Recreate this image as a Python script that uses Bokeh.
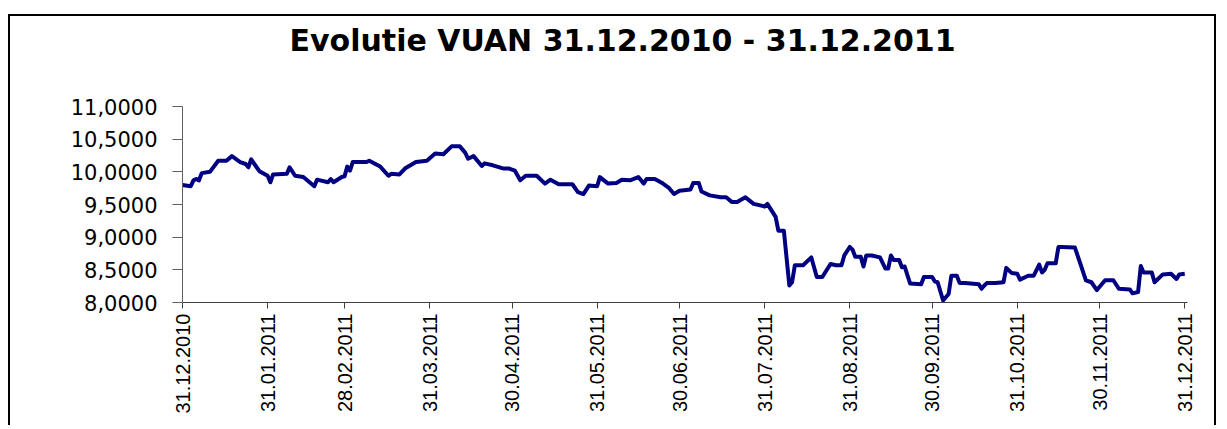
import math
import pandas as pd
from bokeh.plotting import figure
from bokeh.models import FixedTicker, Range1d, ColumnDataSource, Title
from bokeh.embed import file_html
from bokeh.resources import INLINE

title_text = "Evolutie VUAN 31.12.2010 - 31.12.2011"

dates = [
    "2010-12-31", "2011-01-03", "2011-01-04", "2011-01-05", "2011-01-06", "2011-01-07",
    "2011-01-10", "2011-01-13", "2011-01-16", "2011-01-18", "2011-01-21", "2011-01-23",
    "2011-01-24", "2011-01-25", "2011-01-27", "2011-01-28", "2011-01-31", "2011-02-01",
    "2011-02-02", "2011-02-07", "2011-02-08", "2011-02-10", "2011-02-13", "2011-02-17",
    "2011-02-18", "2011-02-22", "2011-02-23", "2011-02-24", "2011-02-27", "2011-02-28",
    "2011-03-01", "2011-03-02", "2011-03-03", "2011-03-08", "2011-03-09", "2011-03-13",
    "2011-03-16", "2011-03-17", "2011-03-20", "2011-03-22", "2011-03-26", "2011-03-30",
    "2011-04-02", "2011-04-05", "2011-04-08", "2011-04-11", "2011-04-13", "2011-04-14",
    "2011-04-16", "2011-04-19", "2011-04-20", "2011-04-23", "2011-04-27", "2011-04-29",
    "2011-05-01", "2011-05-03", "2011-05-05", "2011-05-09", "2011-05-12", "2011-05-14",
    "2011-05-17", "2011-05-22", "2011-05-24", "2011-05-26", "2011-05-28", "2011-05-31",
    "2011-06-01", "2011-06-04", "2011-06-07", "2011-06-09", "2011-06-12", "2011-06-15",
    "2011-06-17", "2011-06-18", "2011-06-21", "2011-06-24", "2011-06-26", "2011-06-28",
    "2011-06-30", "2011-07-04", "2011-07-05", "2011-07-07", "2011-07-08", "2011-07-11",
    "2011-07-15", "2011-07-17", "2011-07-19", "2011-07-21", "2011-07-24", "2011-07-27",
    "2011-07-31", "2011-08-01", "2011-08-04", "2011-08-05", "2011-08-07", "2011-08-09",
    "2011-08-10", "2011-08-11", "2011-08-14", "2011-08-17", "2011-08-19", "2011-08-21",
    "2011-08-24", "2011-08-26", "2011-08-28", "2011-08-29", "2011-08-31", "2011-09-01",
    "2011-09-02", "2011-09-04", "2011-09-05", "2011-09-06", "2011-09-08", "2011-09-11",
    "2011-09-13", "2011-09-14", "2011-09-15", "2011-09-16", "2011-09-18", "2011-09-19",
    "2011-09-20", "2011-09-22", "2011-09-26", "2011-09-27", "2011-09-30", "2011-10-01",
    "2011-10-02", "2011-10-04", "2011-10-06", "2011-10-07", "2011-10-09", "2011-10-10",
    "2011-10-12", "2011-10-17", "2011-10-18", "2011-10-19", "2011-10-20", "2011-10-23",
    "2011-10-26", "2011-10-27", "2011-10-29", "2011-10-31", "2011-11-01", "2011-11-04",
    "2011-11-06", "2011-11-08", "2011-11-09", "2011-11-10", "2011-11-11", "2011-11-14",
    "2011-11-15", "2011-11-16", "2011-11-21", "2011-11-23", "2011-11-25", "2011-11-27",
    "2011-11-29", "2011-12-02", "2011-12-05", "2011-12-07", "2011-12-11", "2011-12-12",
    "2011-12-14", "2011-12-15", "2011-12-16", "2011-12-19", "2011-12-20", "2011-12-23",
    "2011-12-26", "2011-12-28", "2011-12-29", "2011-12-31",
]

values = [
    9.80, 9.78, 9.87, 9.89, 9.87, 9.98,
    10.00, 10.17, 10.17, 10.24, 10.15, 10.12,
    10.07, 10.19, 10.07, 10.01, 9.94, 9.84,
    9.96, 9.97, 10.07, 9.94, 9.92, 9.78,
    9.88, 9.84, 9.89, 9.84, 9.92, 9.93,
    10.08, 10.02, 10.15, 10.15, 10.17, 10.08,
    9.94, 9.97, 9.96, 10.05, 10.15, 10.17,
    10.28, 10.27, 10.39, 10.39, 10.29, 10.20,
    10.24, 10.09, 10.13, 10.10, 10.05, 10.05,
    10.02, 9.87, 9.94, 9.94, 9.82, 9.88,
    9.81, 9.81, 9.69, 9.66, 9.79, 9.78,
    9.92, 9.82, 9.83, 9.88, 9.87, 9.92,
    9.82, 9.89, 9.89, 9.82, 9.76, 9.66,
    9.71, 9.73, 9.83, 9.83, 9.70, 9.64,
    9.61, 9.61, 9.54, 9.54, 9.61, 9.51,
    9.47, 9.51, 9.31, 9.10, 9.10, 8.26,
    8.31, 8.57, 8.57, 8.69, 8.39, 8.39,
    8.59, 8.57, 8.57, 8.72, 8.85, 8.81,
    8.70, 8.70, 8.55, 8.72, 8.72, 8.69,
    8.52, 8.52, 8.72, 8.65, 8.65, 8.54,
    8.55, 8.29, 8.28, 8.39, 8.39, 8.32,
    8.31, 8.03, 8.13, 8.41, 8.41, 8.30,
    8.30, 8.28, 8.21, 8.26, 8.30, 8.30,
    8.31, 8.53, 8.45, 8.44, 8.35, 8.41,
    8.41, 8.58, 8.46, 8.50, 8.60, 8.60,
    8.85, 8.85, 8.84, 8.59, 8.34, 8.31,
    8.19, 8.34, 8.34, 8.21, 8.20, 8.14,
    8.16, 8.56, 8.46, 8.46, 8.31, 8.43,
    8.44, 8.36, 8.43, 8.44,
]

y_ticks = [8.0, 8.5, 9.0, 9.5, 10.0, 10.5, 11.0]
y_tick_labels = ["8,0000", "8,5000", "9,0000", "9,5000", "10,0000", "10,5000", "11,0000"]

x_tick_dates = ["2010-12-31", "2011-01-31", "2011-02-28", "2011-03-31", "2011-04-30",
                "2011-05-31", "2011-06-30", "2011-07-31", "2011-08-31", "2011-09-30",
                "2011-10-31", "2011-11-30", "2011-12-31"]
x_tick_labels = ["31.12.2010", "31.01.2011", "28.02.2011", "31.03.2011", "30.04.2011",
                 "31.05.2011", "30.06.2011", "31.07.2011", "31.08.2011", "30.09.2011",
                 "31.10.2011", "30.11.2011", "31.12.2011"]


def to_ms(d):
    return float(pd.Timestamp(d).value // 10**6)


source = ColumnDataSource(data=dict(date=pd.to_datetime(dates), value=values))

x_start = to_ms("2010-12-31")
x_end = to_ms("2012-01-01")

p = figure(width=1208, height=411, output_backend="svg", toolbar_location=None,
           x_axis_type="datetime",
           x_range=Range1d(x_start, x_end), y_range=Range1d(8.0, 11.0),
           min_border_left=172, min_border_right=31, min_border_top=90,
           min_border_bottom=125)
p.styles = {"border-top": "2px solid black", "border-left": "2px solid black",
            "border-right": "2px solid black", "margin-top": "14px",
            "margin-left": "8px"}

# main title
p.title.text = title_text
p.title.align = "left"
p.title.offset = 107
p.title.standoff = 0
p.title.text_font = "DejaVu Sans"
p.title.text_font_size = "30px"
p.title.text_font_style = "bold"
p.title.text_color = "black"

# spacer between title and plot area
p.add_layout(Title(text=" ", text_font_size="2px", standoff=45), "above")

p.outline_line_color = None
p.xgrid.visible = False
p.ygrid.visible = False
p.background_fill_color = "white"
p.border_fill_color = "white"

p.line(x="date", y="value", source=source, line_color="#000080", line_width=4,
       line_join="round")

x_ticks_ms = [to_ms(d) for d in x_tick_dates]
p.xaxis.ticker = FixedTicker(ticks=x_ticks_ms)
p.xaxis.major_label_overrides = {ms: lab for ms, lab in zip(x_ticks_ms, x_tick_labels)}
p.xaxis.major_label_orientation = math.pi / 2
p.xaxis.major_tick_in = 0
p.xaxis.major_tick_out = 6
p.xaxis.minor_tick_in = 0
p.xaxis.minor_tick_out = 0
p.xaxis.major_label_standoff = 5
p.xaxis.major_label_text_font = "Liberation Sans"
p.xaxis.major_label_text_font_size = "20px"
p.xaxis.major_label_text_color = "black"
p.xaxis.axis_line_color = "#404040"
p.xaxis.major_tick_line_color = "#404040"

p.yaxis.ticker = FixedTicker(ticks=y_ticks)
p.yaxis.major_label_overrides = {v: lab for v, lab in zip(y_ticks, y_tick_labels)}
p.yaxis.major_tick_in = 0
p.yaxis.major_tick_out = 10
p.yaxis.minor_tick_in = 0
p.yaxis.minor_tick_out = 0
p.yaxis.major_label_standoff = 15
p.yaxis.major_label_text_font = "DejaVu Sans"
p.yaxis.major_label_text_font_size = "21px"
p.yaxis.major_label_text_color = "black"
p.yaxis.axis_line_color = "#606060"
p.yaxis.major_tick_line_color = "#606060"

open("out.html", "w").write(file_html(p, INLINE))
